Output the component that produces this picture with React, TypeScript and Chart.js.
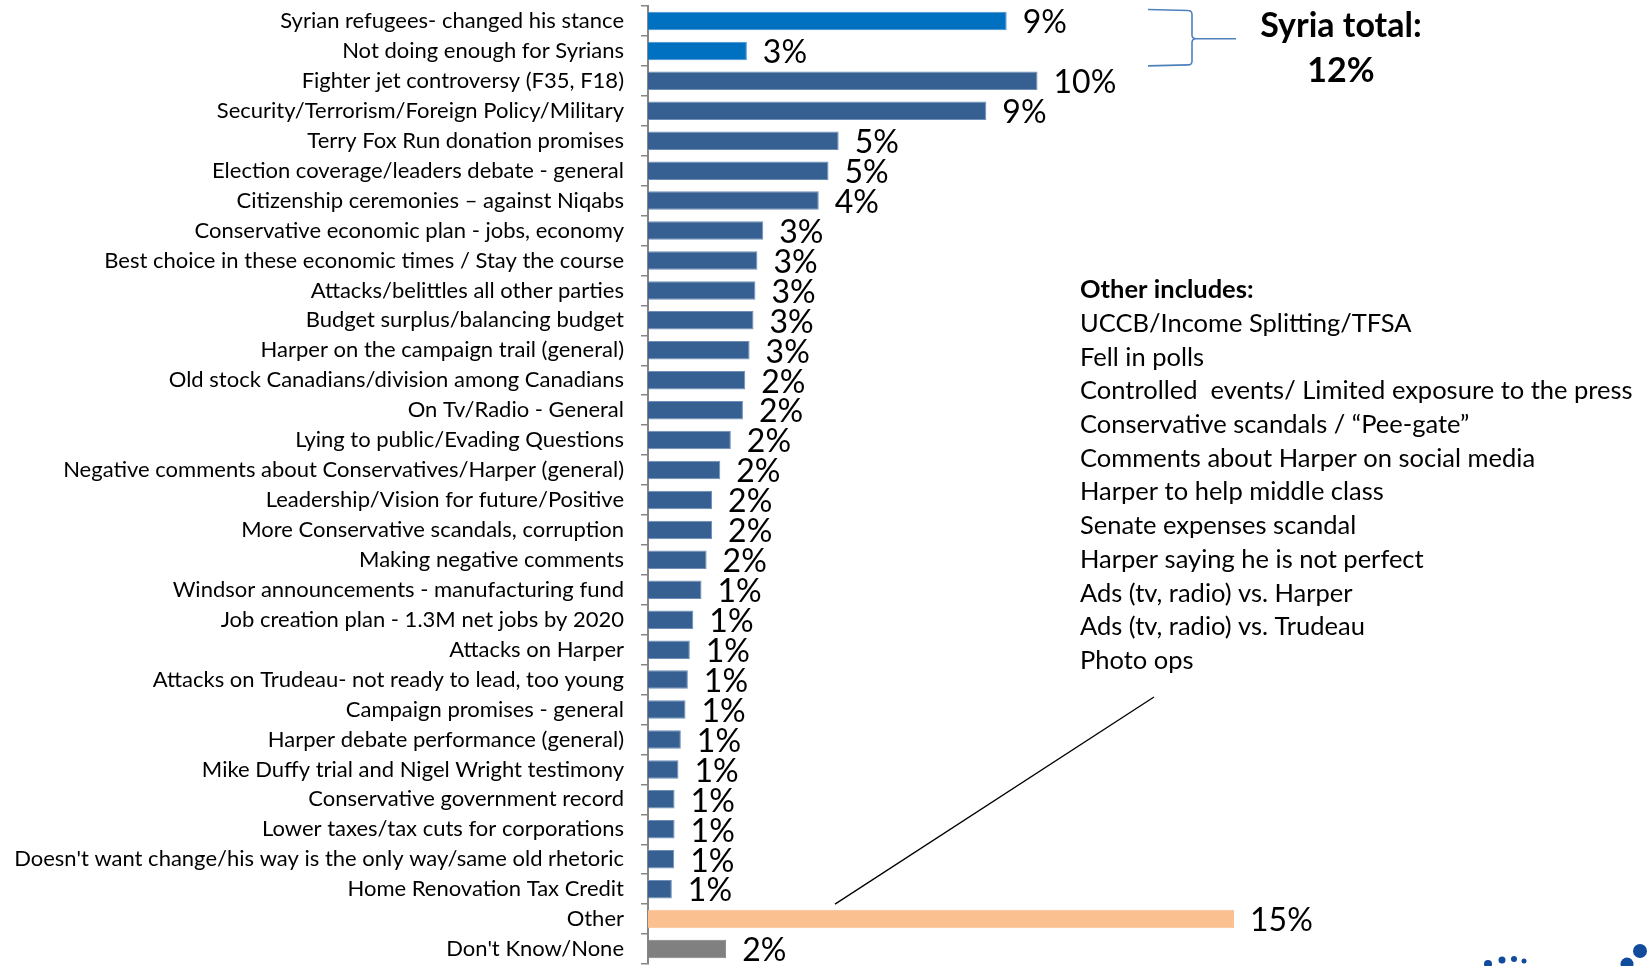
import React, { useEffect, useRef } from "react";
import { Chart, registerables } from "chart.js";

Chart.register(...registerables);

const categories: string[] = [
  "Syrian refugees- changed his stance",
  "Not doing enough for Syrians",
  "Fighter jet controversy (F35, F18)",
  "Security/Terrorism/Foreign Policy/Military",
  "Terry Fox Run donation promises",
  "Election coverage/leaders debate - general",
  "Citizenship ceremonies \u2013 against Niqabs",
  "Conservative economic plan - jobs, economy",
  "Best choice in these economic times / Stay the course",
  "Attacks/belittles all other parties",
  "Budget surplus/balancing budget",
  "Harper on the campaign trail (general)",
  "Old stock Canadians/division among Canadians",
  "On Tv/Radio - General",
  "Lying to public/Evading Questions",
  "Negative comments about Conservatives/Harper (general)",
  "Leadership/Vision for future/Positive",
  "More Conservative scandals, corruption",
  "Making negative comments",
  "Windsor announcements - manufacturing fund",
  "Job creation plan - 1.3M net jobs by 2020",
  "Attacks on Harper",
  "Attacks on Trudeau- not ready to lead, too young",
  "Campaign promises - general",
  "Harper debate performance (general)",
  "Mike Duffy trial and Nigel Wright testimony",
  "Conservative government record",
  "Lower taxes/tax cuts for corporations",
  "Doesn't want change/his way is the only way/same old rhetoric",
  "Home Renovation Tax Credit",
  "Other",
  "Don't Know/None",
];

const values: number[] = [
  9.18, 2.53, 9.97, 8.66, 4.88, 4.62, 4.37, 2.95, 2.8, 2.75, 2.7, 2.6, 2.49,
  2.43, 2.12, 1.85, 1.64, 1.64, 1.5, 1.37, 1.16, 1.07, 1.02, 0.96, 0.84, 0.78,
  0.68, 0.68, 0.67, 0.61, 15.0, 2.0,
];

const valueLabels: string[] = [
  "9%", "3%", "10%", "9%", "5%", "5%", "4%", "3%", "3%", "3%", "3%", "3%",
  "2%", "2%", "2%", "2%", "2%", "2%", "2%", "1%", "1%", "1%", "1%", "1%",
  "1%", "1%", "1%", "1%", "1%", "1%", "15%", "2%",
];

// bar group per category: s = Syria, m = main, o = other, n = don't know
const groups: string[] = [
  "s", "s", "m", "m", "m", "m", "m", "m", "m", "m", "m", "m", "m", "m", "m",
  "m", "m", "m", "m", "m", "m", "m", "m", "m", "m", "m", "m", "m", "m", "m",
  "o", "n",
];

const syriaTitle: string[] = ["Syria total:", "12%"];

const otherIncludes: string[] = [
  "UCCB/Income Splitting/TFSA",
  "Fell in polls",
  "Controlled  events/ Limited exposure to the press",
  "Conservative scandals / \u201cPee-gate\u201d",
  "Comments about Harper on social media",
  "Harper to help middle class",
  "Senate expenses scandal",
  "Harper saying he is not perfect",
  "Ads (tv, radio) vs. Harper",
  "Ads (tv, radio) vs. Trudeau",
  "Photo ops",
];

const groupColors: Record<string, string> = {
  s: "#0070C0",
  m: "#376092",
  o: "#FAC090",
  n: "#808080",
};
const groupBorders: Record<string, string> = {
  s: "#4A8FD0",
  m: "#6F8FB8",
  o: "#FAC090",
  n: "#808080",
};

const valueLabelPlugin = {
  id: "valueLabels",
  afterDatasetsDraw(chart: any) {
    const ctx = chart.ctx;
    const meta = chart.getDatasetMeta(0);
    ctx.save();
    ctx.font = "32px Lato";
    ctx.fillStyle = "#000";
    ctx.textAlign = "left";
    ctx.textBaseline = "middle";
    meta.data.forEach((bar: any, i: number) => {
      ctx.fillText(valueLabels[i], bar.x + 16, bar.y + 2);
    });
    ctx.restore();
  },
};

const annotationPlugin = {
  id: "annotations",
  afterDraw(chart: any) {
    const ctx = chart.ctx;
    const y = chart.scales.y;
    ctx.save();

    // Brace for Syria rows
    const r0 = y.getPixelForValue(0);
    const r1 = y.getPixelForValue(1);
    const half = (r1 - r0) / 2;
    const yTop = r0 - half + 3.5;
    const yBot = r1 + half;
    const yMid = (yTop + yBot) / 2 + 1;
    const x0 = 1148;
    const xv = 1192;
    const xt = 1236;
    const rr = 4;
    ctx.strokeStyle = "#4F81BD";
    ctx.lineWidth = 1.6;
    ctx.beginPath();
    ctx.moveTo(x0, yTop);
    ctx.lineTo(xv - rr, yTop + 1);
    ctx.quadraticCurveTo(xv, yTop + 1, xv, yTop + 1 + rr);
    ctx.lineTo(xv, yMid - rr);
    ctx.quadraticCurveTo(xv, yMid, xv + rr, yMid);
    ctx.lineTo(xt, yMid);
    ctx.moveTo(xv + rr, yMid);
    ctx.quadraticCurveTo(xv, yMid, xv, yMid + rr);
    ctx.lineTo(xv, yBot - 1 - rr);
    ctx.quadraticCurveTo(xv, yBot - 1, xv - rr, yBot - 1);
    ctx.lineTo(x0, yBot);
    ctx.stroke();

    // Syria total text
    ctx.fillStyle = "#000";
    ctx.font = "bold 34px Lato";
    ctx.textAlign = "center";
    ctx.textBaseline = "middle";
    ctx.fillText(syriaTitle[0], 1341, 26);
    ctx.fillText(syriaTitle[1], 1341, 71);

    // Other includes list
    ctx.textAlign = "left";
    ctx.font = "bold 25.5px Lato";
    ctx.fillText("Other includes:", 1080, 290);
    ctx.font = "25.5px Lato";
    otherIncludes.forEach((t, i) => {
      ctx.fillText(t, 1080, 290 + (i + 1) * 33.7);
    });

    // Connector line to "Other" bar
    const otherIdx = categories.indexOf("Other");
    const oy = y.getPixelForValue(otherIdx);
    ctx.strokeStyle = "#000";
    ctx.lineWidth = 1.3;
    ctx.beginPath();
    ctx.moveTo(1154, 697);
    ctx.lineTo(835, oy - 15);
    ctx.stroke();

    // Logo dots (partial, bottom right)
    ctx.fillStyle = "#114B9B";
    const dots: number[][] = [
      [1488, 964, 4],
      [1502, 960, 3.5],
      [1514, 959, 3],
      [1524, 961, 2.5],
      [1640, 951, 7],
      [1627, 964, 6.5],
    ];
    dots.forEach(([dx, dy, dr]) => {
      ctx.beginPath();
      ctx.arc(dx, dy, dr, 0, Math.PI * 2);
      ctx.fill();
    });

    ctx.restore();
  },
};

export default function App() {
  const canvasRef = useRef<HTMLCanvasElement | null>(null);

  useEffect(() => {
    if (!canvasRef.current) return;
    const chart = new Chart(canvasRef.current, {
      type: "bar",
      data: {
        labels: categories,
        datasets: [
          {
            data: values,
            backgroundColor: groups.map((g) => groupColors[g]),
            borderColor: groups.map((g) => groupBorders[g]),
            borderWidth: 1,
            barPercentage: 1,
            categoryPercentage: 0.62,
          },
        ],
      },
      options: {
        indexAxis: "y",
        responsive: false,
        animation: false,
        layout: { padding: { left: 0, right: 222.6, top: 6, bottom: 2 } },
        plugins: {
          legend: { display: false },
          tooltip: { enabled: false },
        },
        scales: {
          x: {
            display: false,
            min: 0,
            max: 20,
          },
          y: {
            afterFit: (scale: any) => {
              scale.width = 648;
              scale.paddingTop = 0;
              scale.paddingBottom = 0;
            },
            grid: {
              display: true,
              drawOnChartArea: false,
              drawTicks: true,
              tickLength: 7,
              color: "#868686",
              lineWidth: 1.5,
            },
            border: { display: true, color: "#868686", width: 2 },
            ticks: {
              color: "#000",
              padding: 17,
              autoSkip: false,
              font: { family: "Lato", size: 22 },
            },
          },
        },
      },
      plugins: [valueLabelPlugin, annotationPlugin],
    });
    return () => chart.destroy();
  }, []);

  return (
    <div
      style={{
        position: "fixed",
        left: 0,
        top: 0,
        width: 1652,
        height: 966,
        background: "#fff",
      }}
    >
      <canvas
        ref={canvasRef}
        width={1652}
        height={966}
        style={{ display: "block", width: 1652, height: 966 }}
      />
    </div>
  );
}
